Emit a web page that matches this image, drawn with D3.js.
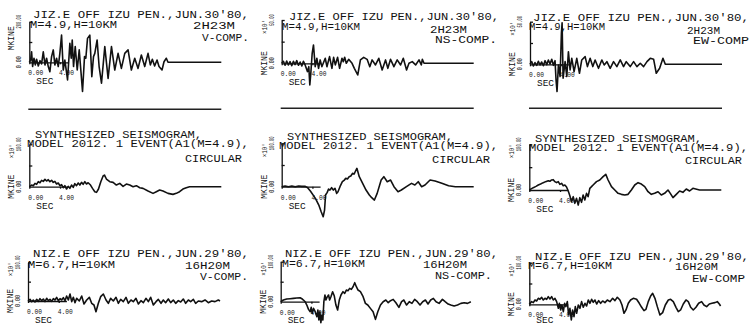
<!DOCTYPE html>
<html>
<head>
<meta charset="utf-8">
<script src="https://cdn.jsdelivr.net/npm/d3@7"></script>
<style>
  body { margin: 0; background: #fff; }
  svg text { font-family: "Liberation Mono", "DejaVu Sans Mono", monospace; fill: #111; }
</style>
</head>
<body>
<svg id="chart" width="750" height="327"></svg>
<script>
// ---- data: time (sec) / velocity (mkine, in the units of each panel) ----
const xTickValues = [0, 4];
const xTickLabels = ['0.00', '4.00'];
const yMax = [200, 50, 50, 100, 100, 100, 100, 100, 100];
const yMaxLabels = ['200.00', '50.00', '50.00', '100.00', '100.00', '100.00', '100.00', '100.00', '100.00'];
const expLabels = [null, "\u00d710'", "\u00d710'", "\u00d710'", "\u00d710'", "\u00d710'", "\u00d710'", "\u00d710'", "\u00d710'"];

const titles = [
  ["JIZ.E OFF IZU PEN.,JUN.30'80,", 'M=4.9,H=10KM', '2H23M', 'V-COMP.'],
  ["JIZ.E OFF IZU PEN.,JUN.30'80,", 'M=4.9,H=10KM', '2H23M', 'NS-COMP.'],
  ["JIZ.E OFF IZU PEN.,JUN.30'80,", 'M=4.9,H=10KM', '2H23M', 'EW-COMP'],
  ['SYNTHESIZED SEISMOGRAM,', 'MODEL 2012. 1 EVENT(A1(M=4.9),', 'CIRCULAR'],
  ['SYNTHESIZED SEISMOGRAM,', 'MODEL 2012. 1 EVENT(A1(M=4.9),', 'CIRCULAR'],
  ['SYNTHESIZED SEISMOGRAM,', 'MODEL 2012. 1 EVENT(A1(M=4.9),', 'CIRCULAR'],
  ["NIZ.E OFF IZU PEN.,JUN.29'80,", 'M=6.7,H=10KM', '16H20M', 'V-COMP.'],
  ["NIZ.E OFF IZU PEN.,JUN.29'80,", 'M=6.7,H=10KM', '16H20M', 'NS-COMP.'],
  ["NIZ.E OFF IZU PEN.,JUN.29'80,", 'M=6.7,H=10KM', '16H20M', 'EW-COMP']
];

const jizV = [[0,0],[0.17,11],[0.30,52],[0.43,-21],[0.61,20],[0.78,-13],[0.95,15],[1.17,-18],[1.39,8],[1.60,-8],[1.82,52],[2.04,-13],[2.25,20],[2.47,-21],[2.68,-46],[2.90,28],[3.12,61],[3.33,-13],[3.55,20],[3.77,-21],[3.98,44],[4.20,134],[4.42,-38],[4.63,11],[4.98,-87],[5.28,93],[5.46,20],[5.59,110],[5.76,-21],[5.98,77],[6.24,-38],[6.50,61],[6.93,-144],[7.19,28],[7.36,20],[7.58,118],[7.88,134],[8.14,-71],[8.36,28],[8.53,44],[8.83,110],[9.09,-21],[9.40,-103],[9.83,77],[10.26,-79],[10.70,77],[11.13,-38],[11.56,44],[11.99,-30],[12.43,44],[12.86,61],[13.29,-38],[13.73,20],[14.16,-30],[14.59,36],[15.03,-21],[15.46,44],[15.76,-13],[16.02,15],[16.32,-18],[16.63,11],[16.89,-21],[17.28,-38],[17.54,3],[17.84,20],[18.06,0],[25,0]];

const jizNS = [[0,0],[0.22,2.3],[0.44,-2.3],[0.65,2.7],[0.87,-1.9],[1.09,1.9],[1.31,-2.7],[1.53,2.3],[1.74,-1.5],[1.96,3.1],[2.18,-2.3],[2.40,1.5],[2.62,-3.1],[2.83,2.3],[3.05,-1.9],[3.36,-9.6],[3.53,-3.9],[3.66,-25],[3.79,-11.6],[3.97,11.6],[4.14,21.2],[4.36,-3.9],[4.58,5.8],[4.80,-5.8],[5.01,3.9],[5.23,-3.9],[5.67,5.8],[5.89,-3.9],[6.23,7.7],[6.54,-5.8],[6.76,6.9],[6.98,-1.9],[7.28,6.9],[7.54,-5.8],[7.85,5.8],[8.02,1.9],[8.20,6.9],[8.41,0],[8.72,4.6],[9.16,0],[9.46,-5.8],[9.90,-13.5],[10.25,3.9],[10.68,6.9],[11.12,4.6],[11.47,-3.9],[11.77,3.9],[12.21,-1.9],[12.64,5.8],[13.08,-7.7],[13.52,3.9],[13.82,-5.8],[14.17,4.6],[14.61,-3.9],[15.04,3.9],[15.48,-1.9],[15.83,5.8],[16.26,-7.7],[16.57,0],[17.00,1.9],[17.44,-1.9],[17.88,3.9],[18.18,-1.9],[18.31,4.6],[18.53,0],[25,0]];

const jizEW = [[0,0],[0.22,3.1],[0.44,-2.0],[0.65,2.0],[0.87,-1.2],[1.09,3.5],[1.31,-0.8],[1.52,2.7],[1.74,-1.6],[1.96,4.3],[2.18,-0.4],[2.39,5.1],[2.61,0.4],[2.83,5.9],[3.05,-1.2],[3.26,4.3],[3.39,-18.3],[3.52,-32],[3.70,-0.8],[3.92,-14.4],[4.09,36.3],[4.18,48.8],[4.31,-16.4],[4.57,3.1],[4.79,-14.4],[5.00,14.8],[5.22,-6.6],[5.44,7.0],[5.74,-8.6],[6.09,7.0],[6.44,-10.5],[6.74,5.1],[7.18,9.0],[7.48,-2.7],[7.83,7.0],[8.18,-2.7],[8.48,5.1],[8.92,-4.7],[9.35,5.1],[9.66,-0.8],[10.01,3.1],[10.44,-4.7],[10.88,3.1],[11.31,-2.7],[11.75,5.1],[12.18,-2.7],[12.53,3.1],[13.05,-2.7],[13.49,3.1],[13.92,-2.7],[14.36,1.2],[14.79,-2.7],[15.23,3.1],[15.66,7.0],[16.10,5.9],[16.44,-10.5],[16.88,-4.7],[17.31,7.0],[17.62,0],[25,0]];

const synV = [[0,0],[0.30,3.9],[0.52,2.4],[0.74,7.9],[0.95,5.5],[1.17,11.8],[1.39,9.4],[1.60,15.0],[1.82,12.6],[2.04,17.3],[2.25,13.4],[2.47,16.5],[2.68,11.8],[2.90,15.0],[3.12,10.2],[3.33,12.6],[3.55,6.3],[3.77,8.7],[3.98,2.4],[4.20,4.7],[4.42,-2.4],[4.63,2.4],[4.85,-5.5],[5.07,0.8],[5.28,-3.9],[5.50,3.9],[5.72,-1.6],[5.93,7.1],[6.15,2.4],[6.37,8.7],[6.58,3.9],[6.80,10.2],[7.01,5.5],[7.23,11.8],[7.45,6.3],[7.66,9.4],[7.97,3.9],[8.23,-3.9],[8.53,-11.8],[8.75,-13.4],[9.01,-5.5],[9.31,11.8],[9.61,25.2],[9.79,27.5],[10.04,18.1],[10.48,11.8],[10.91,10.2],[11.34,3.9],[11.78,7.9],[12.21,0.8],[12.64,6.3],[13.08,3.9],[13.51,0],[13.94,2.4],[14.38,-2.4],[14.81,-3.9],[15.46,-10.2],[16.11,-15.7],[16.54,-11.8],[16.97,-7.9],[17.41,-10.2],[18.06,-15.7],[18.71,-18.1],[19.14,-15.7],[19.57,-11.8],[20.00,-5.5],[20.44,-2.4],[20.87,0],[25,0]];

const synNS = [[0,0],[0.44,1.5],[0.88,0],[1.32,1.5],[1.76,0],[2.20,1.5],[2.63,0.8],[3.07,0.8],[3.38,-2.3],[3.73,-10],[4.39,-26.9],[4.83,-42.3],[5.14,-57.7],[5.40,-69.2],[5.58,-53.8],[5.71,-19.2],[5.93,-13.1],[6.10,-5.4],[6.28,-7.7],[6.50,-2.3],[6.72,-7.7],[6.94,-3.8],[7.16,-15.4],[7.33,-11.5],[7.59,0],[7.90,11.5],[8.12,14.6],[8.34,19.2],[8.56,17.7],[8.78,23.1],[9.00,24.6],[9.22,30.8],[9.44,29.2],[9.61,36.1],[9.79,42.3],[10.10,23.1],[10.54,7.7],[10.98,-7.7],[11.41,-19.2],[11.72,-25.4],[12.07,-30.8],[12.43,-15.4],[12.95,15.4],[13.30,23.1],[13.74,11.5],[14.18,15.4],[14.62,0],[15.15,-11.5],[15.58,-7.7],[16.24,0],[16.90,7.7],[17.34,3.8],[17.78,11.5],[18.22,0],[18.66,3.8],[19.32,15.4],[19.97,13.1],[20.85,7.7],[21.73,2.3],[22.61,0],[25,0]];

const synEW = [[0,0],[0.30,2.9],[0.52,5.1],[0.87,8.0],[1.17,11.0],[1.47,13.1],[1.82,16.1],[2.12,18.3],[2.47,20.4],[2.68,19.0],[2.90,21.9],[3.12,22.6],[3.33,18.3],[3.55,16.1],[3.77,18.3],[3.98,12.4],[4.20,14.6],[4.42,9.5],[4.63,11.0],[4.85,6.6],[5.07,-2.2],[5.28,-12.4],[5.50,-25.6],[5.72,-14.6],[5.93,-29.2],[6.15,-18.3],[6.37,-32.9],[6.58,-16.8],[6.80,-27.0],[7.01,-11.0],[7.23,-21.9],[7.45,-7.3],[7.66,-14.6],[7.88,3.7],[8.10,7.3],[8.31,11.0],[8.75,18.3],[9.18,21.9],[9.61,29.2],[9.96,34.3],[10.26,21.9],[10.70,7.3],[11.13,0],[11.56,-7.3],[11.99,-9.5],[12.43,-11.0],[12.86,-9.5],[13.29,0],[13.73,11.0],[14.16,16.1],[14.59,13.1],[15.03,7.3],[15.46,-3.7],[15.89,-9.5],[16.32,-7.3],[16.76,-3.7],[17.19,-11.0],[17.62,-7.3],[18.06,0],[18.36,-7.3],[18.71,-16.8],[19.14,-9.5],[19.57,-2.2],[20.00,-5.1],[20.44,2.2],[20.87,-2.2],[21.30,3.7],[22.17,0],[25,0]];

const nizV = [[0,0],[0.26,4.3],[0.48,-1.7],[0.69,2.6],[0.91,-2.6],[1.13,4.3],[1.35,-0.9],[1.56,6.0],[1.78,0.9],[2.00,5.2],[2.21,-1.7],[2.43,6.9],[2.65,0.9],[2.86,4.3],[3.08,-0.9],[3.30,6.0],[3.52,2.6],[3.73,9.5],[3.95,0.9],[4.17,6.0],[4.38,2.6],[4.60,8.6],[4.82,0.9],[5.03,12.9],[5.25,2.6],[5.47,18.1],[5.69,-1.7],[5.90,9.5],[6.12,-4.3],[6.34,6.9],[6.68,0],[6.99,12.9],[7.29,-7.8],[7.64,2.6],[7.99,9.5],[8.29,-6.0],[8.59,-10.3],[8.85,-27.6],[9.16,-6.0],[9.46,11.2],[9.81,18.1],[10.16,2.6],[10.46,-6.0],[10.76,6.9],[11.11,0],[11.46,9.5],[11.76,-6.0],[12.07,4.3],[12.41,-1.7],[12.76,9.5],[13.06,-6.0],[13.41,2.6],[13.71,-1.7],[14.06,6.9],[14.37,-7.8],[14.71,0.9],[15.02,-4.3],[15.36,6.9],[15.67,-1.7],[15.97,9.5],[16.32,-10.3],[16.67,-1.7],[16.97,4.3],[17.32,-6.0],[17.62,2.6],[17.92,-4.3],[18.27,5.2],[18.58,-4.3],[18.92,2.6],[19.23,-6.0],[19.57,0.9],[19.88,-2.6],[20.22,5.2],[20.53,-6.0],[20.88,2.6],[21.18,-1.7],[21.53,4.3],[21.83,-6.0],[22.18,0],[22.61,-1.7],[23.05,2.6],[23.48,-4.3],[23.91,0],[24.35,-1.7],[24.78,2.6],[25.00,0]];

const nizNS = [[0,0],[0.35,4.2],[0.78,6.7],[1.22,7.5],[1.66,8.3],[2.09,9.2],[2.53,10.0],[2.75,7.5],[2.96,4.2],[3.18,0],[3.40,-8.3],[3.62,-19.2],[3.84,-25.0],[3.97,-14.2],[4.10,-29.2],[4.27,-16.7],[4.49,-25.0],[4.71,-37.5],[4.84,-20.8],[4.97,-45.8],[5.10,-25.0],[5.23,-52.5],[5.36,-33.3],[5.49,-45.8],[5.62,0],[5.76,16.7],[5.89,4.2],[6.02,10.8],[6.23,16.7],[6.37,4.2],[6.54,12.5],[6.76,25.0],[6.98,14.2],[7.19,-8.3],[7.41,-20.8],[7.63,4.2],[7.85,16.7],[8.11,25.0],[8.33,20.8],[8.55,29.2],[8.76,27.5],[8.98,33.3],[9.20,30.8],[9.42,37.5],[9.64,47.5],[9.85,37.5],[10.07,29.2],[10.38,25.0],[10.73,12.5],[11.03,-4.2],[11.34,-8.3],[11.68,-16.7],[12.03,-25.0],[12.34,-44.2],[12.64,-25.0],[12.99,-8.3],[13.34,0],[13.69,4.2],[14.00,-2.5],[14.30,2.5],[14.65,5.8],[15.00,-2.5],[15.39,-14.2],[15.74,0],[16.04,4.2],[16.39,-8.3],[16.74,0],[17.09,-4.2],[17.44,5.8],[17.79,0],[18.14,-8.3],[18.49,0],[18.84,4.2],[19.18,-5.8],[19.53,4.2],[19.88,8.3],[20.23,0],[20.62,-4.2],[21.06,5.8],[21.41,0],[21.80,-5.8],[22.15,-8.3],[22.58,-10.8],[23.02,-8.3],[23.46,-4.2],[23.89,-2.5],[24.33,-4.2],[24.76,0]];

const nizEW = [[0,0],[0.30,6.4],[0.52,4.0],[0.74,10.4],[0.95,8.0],[1.17,14.4],[1.39,12.0],[1.61,16.8],[1.82,10.4],[2.04,14.4],[2.26,12.0],[2.47,18.4],[2.69,12.8],[2.91,18.4],[3.12,10.4],[3.34,14.4],[3.56,6.4],[3.78,-9.6],[3.91,2.4],[4.08,-13.6],[4.25,-1.6],[4.43,-17.6],[4.60,2.4],[4.77,-5.6],[4.95,6.4],[5.12,-25.6],[5.29,-9.6],[5.47,-37.6],[5.64,-13.6],[5.82,-29.6],[5.99,-5.6],[6.16,-21.6],[6.38,-1.6],[6.60,-9.6],[6.81,6.4],[7.03,-7.2],[7.25,2.4],[7.46,-4.0],[7.68,10.4],[7.90,2.4],[8.12,12.0],[8.33,4.8],[8.55,10.4],[8.77,0.8],[9.03,8.8],[9.29,2.4],[9.55,8.0],[9.85,4.0],[10.16,10.4],[10.50,6.4],[10.85,14.4],[11.15,8.8],[11.46,16.8],[11.80,10.4],[12.07,-1.6],[12.33,-21.6],[12.59,-13.6],[12.89,2.4],[13.19,10.4],[13.54,14.4],[13.97,12.0],[14.32,2.4],[14.63,-7.2],[14.93,-15.2],[15.19,-12.0],[15.49,6.4],[15.80,20.0],[16.06,26.4],[16.36,14.4],[16.67,-5.6],[17.01,-25.6],[17.36,-20.0],[17.71,-1.6],[18.10,10.4],[18.40,12.0],[18.75,6.4],[19.10,-7.2],[19.40,-17.6],[19.70,-13.6],[20.05,0.8],[20.40,10.4],[20.70,6.4],[21.01,-7.2],[21.35,-13.6],[21.70,-7.2],[22.05,2.4],[22.44,6.4],[22.74,-1.6],[23.09,-5.6],[23.44,0.8],[23.78,2.4],[24.17,4.0],[24.48,6.4],[24.74,0.8],[24.91,-4.0]];

const traces = [jizV, jizNS, jizEW, synV, synNS, synEW, nizV, nizNS, nizEW];

// ---- layout (scan is slightly skewed, so every panel has its own frame) ----
const plotW = 192;     // 25 sec
const layout = [
  { ax: 29.3,  base: 62.3,  h: 40.6, unitDy: -24, rule: 109.3,
    text: [[33, 18, 216], [30, 28, 87], [193, 29, 42], [202, 41, 47]] },
  { ax: 281.7, base: 63.3,  h: 43.3, unitDy: 0, rule: 108.3,
    text: [[289, 20, 210], [282, 29.5, 78], [430, 33, 37], [435, 43, 62]] },
  { ax: 530,   base: 64.3,  h: 42.6, unitDy: 0, rule: 108.3,
    text: [[533, 21, 216], [529, 30, 76], [687, 34, 33], [693, 44, 56]] },
  { ax: 29.3,  base: 186.7, h: 42.4, unitDy: 0,
    text: [[35, 138, 167], [27, 147, 222], [185, 162, 57]] },
  { ax: 281.7, base: 186.7, h: 43.4, unitDy: 0,
    text: [[287, 140, 166], [279, 149, 219], [432, 163, 58]] },
  { ax: 529.3, base: 190,   h: 45.7, unitDy: 0,
    text: [[535, 142, 167], [529, 151, 219], [685, 164, 57]] },
  { ax: 28,    base: 301,   h: 38.7, unitDy: 0,
    text: [[33, 257, 216], [28, 268, 87], [185, 269, 45], [200, 280, 48]] },
  { ax: 280.7, base: 301.7, h: 40,   unitDy: 0,
    text: [[285, 257, 213], [282, 267, 83], [423, 268, 44], [435, 279, 57]] },
  { ax: 529.3, base: 304.3, h: 41.6, unitDy: 0,
    text: [[535, 260, 214], [528, 269, 84], [675, 270, 43], [692, 282, 53]] }
];

const svg = d3.select('#chart');
svg.append('rect').attr('width', 750).attr('height', 327).attr('fill', '#fff');

layout.forEach((p, i) => {
  const g = svg.append('g');
  const x = d3.scaleLinear().domain([0, 25]).range([p.ax, p.ax + plotW]);
  const y = d3.scaleLinear().domain([0, yMax[i]]).range([p.base, p.base - p.h]);

  // header text
  titles[i].forEach((t, k) => {
    const pos = p.text[k];
    g.append('text')
      .attr('x', pos[0]).attr('y', pos[1])
      .attr('font-size', 11.5)
      .attr('textLength', pos[2])
      .attr('lengthAdjust', 'spacingAndGlyphs')
      .text(t);
  });

  // y axis with ticks pointing right
  const yAxis = d3.axisRight(y)
    .tickValues([yMax[i] / 2, yMax[i]])
    .tickSize(3)
    .tickSizeOuter(0)
    .tickFormat('');
  g.append('g')
    .attr('transform', `translate(${p.ax},0)`)
    .call(yAxis)
    .call(a => a.selectAll('path,line').attr('stroke', '#111').attr('stroke-width', 1.3));

  // x axis, only drawn for the first seconds
  const xShort = x.copy().domain([0, 5]).range([x(0), x(5)]);
  const xAxis = d3.axisBottom(xShort)
    .tickValues(xTickValues)
    .tickSize(2)
    .tickSizeOuter(0)
    .tickFormat('');
  g.append('g')
    .attr('transform', `translate(0,${p.base})`)
    .call(xAxis)
    .call(a => a.selectAll('path,line').attr('stroke', '#111').attr('stroke-width', 1.3));

  xTickValues.forEach((v, k) => {
    g.append('text')
      .attr('x', x(v) - 1).attr('y', p.base + 13)
      .attr('font-size', 7)
      .attr('textLength', 15)
      .attr('lengthAdjust', 'spacingAndGlyphs')
      .text(xTickLabels[k]);
  });
  g.append('text')
    .attr('x', p.ax + 7).attr('y', Math.min(p.base + 22, 323))
    .attr('font-size', 9)
    .attr('textLength', 17)
    .attr('lengthAdjust', 'spacingAndGlyphs')
    .text('SEC');

  // rotated y labels
  const rot = (tx, ty, str, anchor, size, len) => {
    g.append('text')
      .attr('transform', `translate(${tx},${ty}) rotate(-90)`)
      .attr('text-anchor', anchor)
      .attr('font-size', size)
      .attr('textLength', len)
      .attr('lengthAdjust', 'spacingAndGlyphs')
      .text(str);
  };
  rot(p.ax - 8, y(yMax[i]), yMaxLabels[i], 'middle', 7, yMaxLabels[i].length * 2.3);
  rot(p.ax - 8, p.base, '0.00', 'middle', 7, 12);
  rot(p.ax - 15, p.base + p.unitDy, 'MKINE', 'middle', 9, 24);
  if (expLabels[i]) rot(p.ax - 15, y(yMax[i]) + 7, expLabels[i], 'middle', 7, 14);

  // rule under the top row
  if (p.rule) {
    g.append('line')
      .attr('x1', x(0) - 1).attr('x2', x(25))
      .attr('y1', p.rule).attr('y2', p.rule)
      .attr('stroke', '#222').attr('stroke-width', 1.6);
  }

  // seismogram trace
  const line = d3.line().x(d => x(d[0])).y(d => y(d[1]));
  g.append('path')
    .datum(traces[i])
    .attr('d', line)
    .attr('fill', 'none')
    .attr('stroke', '#111')
    .attr('stroke-width', 1.6)
    .attr('stroke-linejoin', 'round');
});
</script>
</body>
</html>
